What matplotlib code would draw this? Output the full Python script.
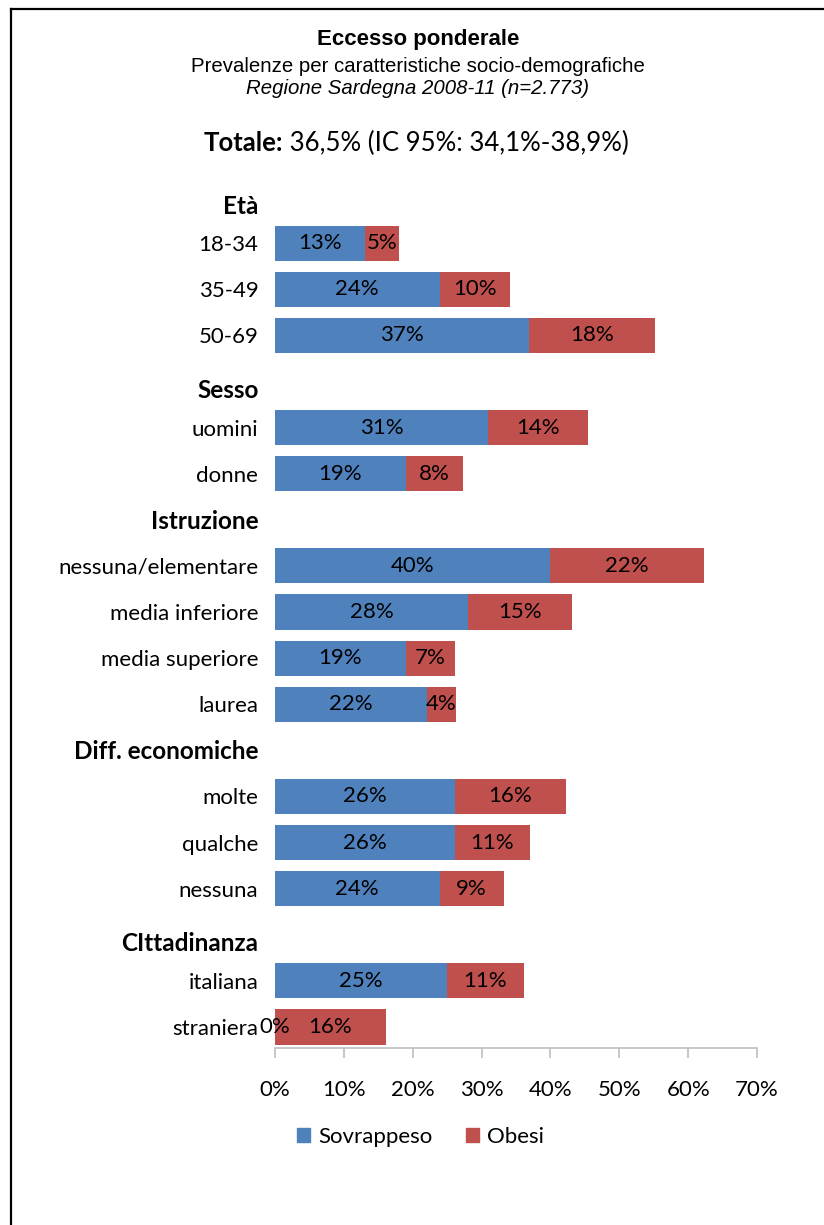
import matplotlib.pyplot as plt
from matplotlib.lines import Line2D
from matplotlib.patches import Patch
import matplotlib.transforms as mtransforms

# rows from top to bottom; headers have no values
labels = ["Età", "18-34", "35-49", "50-69",
          "Sesso", "uomini", "donne",
          "Istruzione", "nessuna/elementare", "media inferiore", "media superiore", "laurea",
          "Diff. economiche", "molte", "qualche", "nessuna",
          "CIttadinanza", "italiana", "straniera"]
is_header = [True, False, False, False,
             True, False, False,
             True, False, False, False, False,
             True, False, False, False,
             True, False, False]
sovrappeso = [None, 13.1, 23.9, 36.9,
              None, 30.9, 19.0,
              None, 39.9, 28.0, 19.0, 22.1,
              None, 26.1, 26.1, 23.9,
              None, 25.0, 0.0]
obesi = [None, 4.9, 10.2, 18.3,
         None, 14.5, 8.3,
         None, 22.4, 15.1, 7.1, 4.2,
         None, 16.2, 10.9, 9.3,
         None, 11.1, 16.1]
xticks = [0, 10, 20, 30, 40, 50, 60, 70]

blue = "#4F81BD"
red = "#C0504D"
font = "Lato"

fig = plt.figure(figsize=(8.24, 12.25), dpi=100)
ax = fig.add_axes([0.3337, 0.1445, 0.585, 0.7135])

for i, (lab, h) in enumerate(zip(labels, is_header)):
    if h:
        continue
    s = sovrappeso[i]
    o = obesi[i]
    ax.barh(i, s, height=0.76, color=blue)
    ax.barh(i, o, left=s, height=0.76, color=red)
    ax.text(s / 2, i, f"{round(s)}%", ha="center", va="center", fontsize=16, family=font)
    ax.text(s + o / 2, i, f"{round(o)}%", ha="center", va="center", fontsize=16, family=font)

ax.set_xlim(0, 70)
ax.set_ylim(18.455, -0.5)

rows = [i for i, h in enumerate(is_header) if not h]
ax.set_yticks(rows)
ax.set_yticklabels([labels[i] for i in rows], fontsize=16, family=font)
ax.tick_params(axis="y", length=0, pad=12)

ax.set_xticks(xticks)
ax.set_xticklabels([f"{v}%" for v in xticks], fontsize=16, family=font)
ax.tick_params(axis="x", direction="out", length=7, color="#BFBFBF", width=1.2, pad=16)

for side in ["top", "right", "left"]:
    ax.spines[side].set_visible(False)
ax.spines["bottom"].set_color("#BFBFBF")
ax.spines["bottom"].set_linewidth(1.2)

# group headers, bold, right aligned with the labels
header_shift = {0: 0.2, 4: 0.2, 7: 0.03, 12: 0.02, 16: 0.18}
trans = mtransforms.blended_transform_factory(ax.transAxes, ax.transData)
for i, h in enumerate(is_header):
    if h:
        ax.text(-0.034, i + header_shift[i], labels[i], transform=trans, ha="right", va="center",
                fontsize=17.5, fontweight="bold", family=font)

fig.text(0.507, 1 - 40 / 1225, "Eccesso ponderale", ha="center", va="center",
         fontsize=16, fontweight="bold", family="Liberation Sans")
fig.text(0.507, 1 - 67 / 1225, "Prevalenze per caratteristiche socio-demografiche", ha="center", va="center",
         fontsize=14.7, family="Liberation Sans")
fig.text(0.507, 1 - 89 / 1225, "Regione Sardegna 2008-11 (n=2.773)", ha="center", va="center",
         fontsize=14.7, style="italic", family="Liberation Sans")

# "Totale:" bold followed by the regular text, centred as one line
renderer = fig.canvas.get_renderer()
t1 = fig.text(0, 1 - 143 / 1225, "Totale:", ha="left", va="center", fontsize=18.5,
              fontweight="bold", family=font)
t2 = fig.text(0, 1 - 143 / 1225, " 36,5% (IC 95%: 34,1%-38,9%)", ha="left", va="center",
              fontsize=18.5, family=font)
w1 = t1.get_window_extent(renderer).width / fig.bbox.width
w2 = t2.get_window_extent(renderer).width / fig.bbox.width
x0 = 0.5 - (w1 + w2) / 2 + 0.005
t1.set_x(x0)
t2.set_x(x0 + w1)

handles = [Patch(color=blue, label="Sovrappeso"), Patch(color=red, label="Obesi")]
fig.legend(handles=handles, loc="center", bbox_to_anchor=(0.51, 1 - 1137 / 1225), ncol=2,
           frameon=False, prop={"family": font, "size": 16}, handlelength=0.6, handleheight=0.6,
           handletextpad=0.35, columnspacing=1.5)

# frame lines at top and left
fig.add_artist(Line2D([11 / 824, 1], [1 - 9 / 1225, 1 - 9 / 1225], color="black", lw=1.6, transform=fig.transFigure))
fig.add_artist(Line2D([11 / 824, 11 / 824], [0, 1 - 9 / 1225], color="black", lw=1.6, transform=fig.transFigure))

fig.savefig("out.png", dpi=100)
